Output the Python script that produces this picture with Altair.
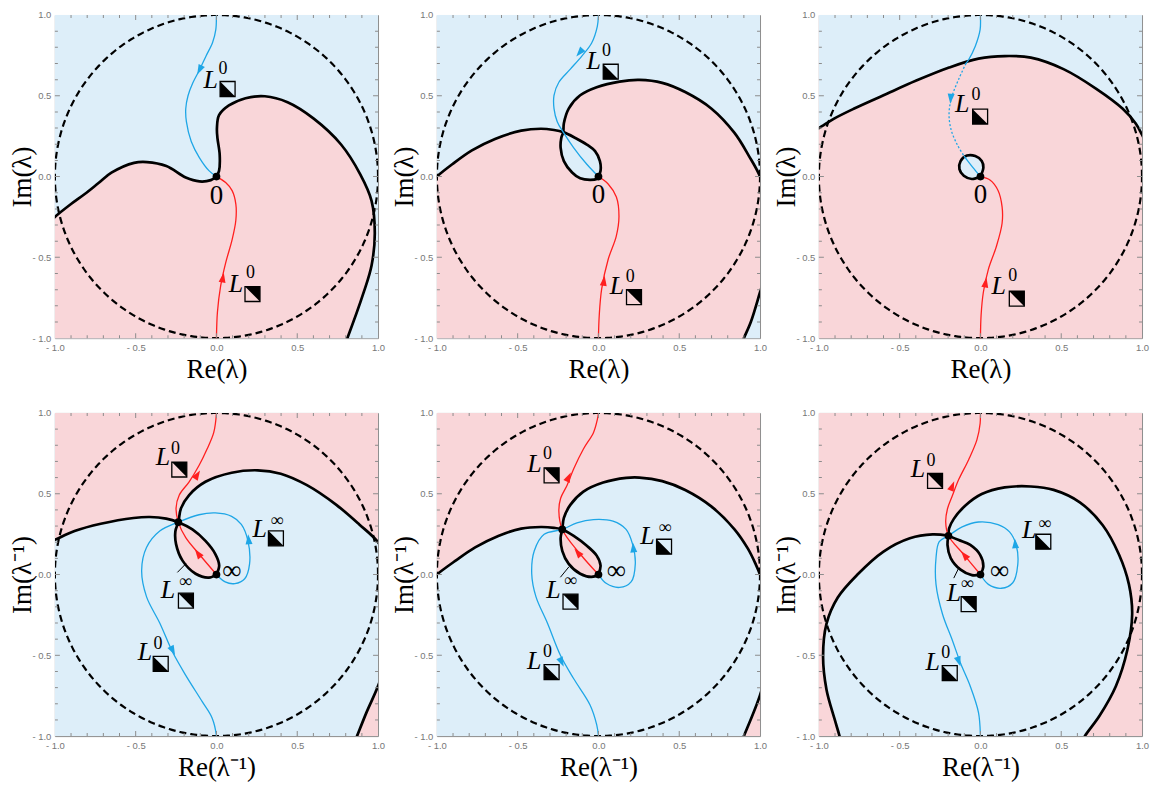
import altair as alt
import numpy as np
import pandas as pd

PINK = "#f9d6d9"
BLUE = "#ddeef9"
RED = "#ff1f1f"
CYAN = "#1ea6e6"
SERIF = "Liberation Serif"
W = 324

# ---------------- Panel 1 (top left) ----------------
P1_LEFT = [(-1.04, -0.29), (-1.0, -0.25), (-0.9, -0.17), (-0.815, -0.108), (-0.73, -0.04), (-0.65, 0.024),
           (-0.51, 0.085), (-0.43, 0.09), (-0.31, 0.065), (-0.19, -0.006), (-0.105, -0.03), (-0.035, -0.022), (0.0, 0.0)]
P1_SPIRAL = [(0.0, 0.0), (0.016, 0.035), (0.02, 0.136), (0.006, 0.24), (0.003, 0.3), (0.016, 0.38), (0.077, 0.44),
             (0.18, 0.485), (0.3, 0.497), (0.44, 0.46), (0.6, 0.36), (0.77, 0.2), (0.89, 0.014), (0.96, -0.15),
             (0.98, -0.35), (0.96, -0.55), (0.91, -0.72), (0.81, -1.0), (0.79, -1.05)]
P1_BLUE = [(0.0, 1.05), (0.0, 1.0), (-0.004, 0.91), (-0.024, 0.83), (-0.065, 0.745), (-0.105, 0.66), (-0.146, 0.58),
           (-0.176, 0.5), (-0.19, 0.42), (-0.186, 0.34), (-0.156, 0.217), (-0.105, 0.116), (-0.045, 0.035), (0.0, 0.0)]
P1_RED = [(0.0, -1.05), (0.0, -1.0), (0.006, -0.84), (0.026, -0.676), (0.057, -0.534), (0.097, -0.39), (0.12, -0.27),
          (0.12, -0.17), (0.097, -0.087), (0.057, -0.037), (0.0, 0.0)]
P1_ARROWS = [(-0.105, 0.66, 207, "blue"), (0.04, -0.625, 10, "red")]
P1_LABELS = [(-0.035, 0.6, 0.04, 0.665, 0.069, 0.542, "0", "ll"),
             (0.12, -0.666, 0.21, -0.595, 0.223, -0.727, "0", "ur")]
P1_POINTS = [(0.0, 0.0)]
P1_POINT_LABELS = [(0.0, -0.12, "0")]

# ---------------- Panel 2 (top middle) ----------------
P2_LEFT = [(-1.04, -0.04), (-1.0, 0.0), (-0.905, 0.076), (-0.783, 0.162), (-0.64, 0.233), (-0.478, 0.284),
           (-0.356, 0.296), (-0.275, 0.288), (-0.218, 0.275)]
P2_LOOP_R = [(-0.218, 0.275), (-0.143, 0.239), (-0.072, 0.198), (-0.021, 0.157), (0.009, 0.096), (0.013, 0.036), (0.0, 0.0)]
P2_LOOP_L = [(0.0, 0.0), (-0.011, -0.015), (-0.052, -0.021), (-0.113, -0.011), (-0.163, 0.025), (-0.214, 0.096),
             (-0.234, 0.178), (-0.23, 0.239), (-0.218, 0.275)]
P2_SPIRAL = [(-0.218, 0.275), (-0.214, 0.33), (-0.184, 0.421), (-0.113, 0.503), (-0.011, 0.553), (0.131, 0.588),
             (0.253, 0.598), (0.395, 0.58), (0.537, 0.523), (0.7, 0.42), (0.842, 0.27), (0.93, 0.13), (1.0, 0.0),
             (1.04, -0.15), (1.06, -0.35), (1.05, -0.55), (1.0, -0.716), (0.943, -0.9), (0.9, -1.0), (0.88, -1.05)]
P2_BLUE = [(0.0, 1.05), (0.0, 1.0), (-0.007, 0.93), (-0.042, 0.827), (-0.103, 0.746), (-0.174, 0.665), (-0.245, 0.584),
           (-0.275, 0.503), (-0.275, 0.421), (-0.255, 0.34), (-0.218, 0.275), (-0.153, 0.178), (-0.072, 0.076), (0.0, 0.0)]
P2_RED = [(0.0, -1.05), (0.0, -1.0), (0.005, -0.858), (0.02, -0.695), (0.06, -0.513), (0.11, -0.37), (0.127, -0.249),
          (0.111, -0.127), (0.06, -0.046), (0.0, 0.0)]
P2_ARROWS = [(-0.117, 0.767, 221, "blue"), (0.034, -0.645, 8, "red")]
P2_LABELS = [(-0.03, 0.715, 0.05, 0.777, 0.076, 0.649, "0", "ll"),
             (0.115, -0.675, 0.196, -0.624, 0.22, -0.746, "0", "ur")]
P2_POINTS = [(0.0, 0.0)]
P2_POINT_LABELS = [(0.0, -0.117, "0")]

# ---------------- Panel 3 (top right) ----------------
P3_TOP = [(-1.04, 0.28), (-1.0, 0.3), (-0.903, 0.36), (-0.781, 0.421), (-0.6, 0.503), (-0.397, 0.594), (-0.194, 0.675),
          (-0.012, 0.73), (0.15, 0.746), (0.312, 0.736), (0.514, 0.665), (0.717, 0.543), (0.879, 0.421), (0.96, 0.33),
          (1.0, 0.259), (1.03, 0.2)]
P3_LOOP = [(0.0, 0.0), (0.018, 0.056), (0.008, 0.096), (-0.032, 0.127), (-0.083, 0.13), (-0.123, 0.096),
           (-0.13, 0.046), (-0.103, 0.005), (-0.053, -0.015), (0.0, 0.0)]
P3_BLUE_SOLID = [(0.0, 1.05), (0.0, 1.0), (-0.002, 0.909), (-0.032, 0.807), (-0.075, 0.72), (-0.09, 0.70)]
P3_BLUE_DOTTED = [(-0.09, 0.70), (-0.134, 0.604), (-0.174, 0.503), (-0.194, 0.401), (-0.184, 0.299), (-0.144, 0.198),
                  (-0.1, 0.125)]
P3_BLUE_INNER = [(-0.1, 0.125), (-0.05, 0.06), (0.0, 0.0)]
P3_RED = [(0.0, -1.05), (0.0, -1.0), (0.004, -0.858), (0.018, -0.716), (0.049, -0.574), (0.099, -0.431),
          (0.134, -0.289), (0.134, -0.188), (0.109, -0.086), (0.059, -0.021), (0.0, 0.0)]
P3_ARROWS = [(-0.184, 0.482, 185, "blue"), (0.032, -0.655, 10, "red")]
P3_LABELS = [(-0.113, 0.452, -0.028, 0.503, -0.002, 0.371, "0", "ll"),
             (0.113, -0.675, 0.2, -0.614, 0.225, -0.756, "0", "ur")]
P3_POINTS = [(0.0, 0.0)]
P3_POINT_LABELS = [(0.0, -0.117, "0")]

# ---------------- Panel 4 (bottom left) ----------------
P4_LEFT = [(-1.04, 0.2), (-1.0, 0.215), (-0.878, 0.269), (-0.716, 0.314), (-0.513, 0.35), (-0.412, 0.356),
           (-0.311, 0.346), (-0.236, 0.324)]
P4_LOOP_R = [(-0.236, 0.324), (-0.149, 0.279), (-0.068, 0.208), (-0.007, 0.127), (0.017, 0.056), (0.0, 0.0)]
P4_LOOP_L = [(0.0, 0.0), (-0.047, -0.019), (-0.129, 0.005), (-0.21, 0.086), (-0.25, 0.188), (-0.254, 0.269),
             (-0.236, 0.324)]
P4_SPIRAL_TOP = [(-0.236, 0.324), (-0.219, 0.411), (-0.169, 0.492), (-0.068, 0.574), (0.094, 0.63), (0.256, 0.645),
                 (0.398, 0.624), (0.56, 0.553), (0.742, 0.431), (0.884, 0.31), (1.0, 0.2), (1.05, 0.1)]
P4_SPIRAL_OUT = [(1.05, 0.1), (1.08, -0.2), (1.06, -0.5), (1.0, -0.69), (0.93, -0.85), (0.87, -1.0), (0.85, -1.05)]
P4_RED = [(0.0, 0.0), (-0.108, 0.127), (-0.19, 0.228), (-0.236, 0.324), (-0.25, 0.411), (-0.23, 0.492),
          (-0.169, 0.574), (-0.108, 0.675), (-0.058, 0.777), (-0.017, 0.878), (0.0, 1.0), (0.0, 1.05)]
P4_BLUE = [(0.0, 0.0), (0.054, -0.046), (0.114, -0.056), (0.175, -0.026), (0.205, 0.066), (0.195, 0.208),
           (0.154, 0.31), (0.094, 0.36), (-0.007, 0.381), (-0.108, 0.37), (-0.236, 0.324), (-0.351, 0.269),
           (-0.433, 0.167), (-0.463, 0.025), (-0.433, -0.137), (-0.351, -0.3), (-0.27, -0.483), (-0.19, -0.624),
           (-0.088, -0.787), (-0.027, -0.888), (0.0, -1.0), (0.0, -1.05)]
P4_ARROWS = [(-0.118, 0.618, 32, "red"), (-0.115, 0.131, 324, "red"), (-0.27, -0.472, 153, "blue"),
             (0.199, 0.218, 355, "blue")]
P4_LABELS = [(-0.331, 0.725, -0.254, 0.776, -0.23, 0.65, "0", "ur"),
             (0.267, 0.279, 0.374, 0.33, 0.368, 0.224, "∞", "ll"),
             (-0.3, -0.096, -0.193, -0.046, -0.189, -0.162, "∞", "ur"),
             (-0.443, -0.482, -0.362, -0.431, -0.345, -0.553, "0", "ll")]
P4_POINTS = [(0.0, 0.0), (-0.236, 0.324)]
P4_POINT_LABELS = [(0.095, 0.02, "∞")]
P4_POINTER = [(-0.24, 0.015), (-0.19, 0.066)]

# ---------------- Panel 5 (bottom middle) ----------------
P5_LEFT = [(-1.04, -0.04), (-1.0, 0.0), (-0.884, 0.086), (-0.763, 0.168), (-0.62, 0.239), (-0.478, 0.284),
           (-0.356, 0.294), (-0.275, 0.289), (-0.224, 0.279)]
P5_LOOP_R = [(-0.224, 0.279), (-0.153, 0.239), (-0.072, 0.178), (-0.011, 0.117), (0.013, 0.056), (0.0, 0.0)]
P5_LOOP_L = [(0.0, 0.0), (-0.042, -0.015), (-0.113, 0.005), (-0.184, 0.066), (-0.224, 0.147), (-0.234, 0.228),
             (-0.224, 0.279)]
P5_SPIRAL_TOP = [(-0.224, 0.279), (-0.214, 0.35), (-0.174, 0.431), (-0.093, 0.513), (0.029, 0.569), (0.172, 0.598),
                 (0.253, 0.6), (0.395, 0.578), (0.537, 0.523), (0.7, 0.42), (0.842, 0.28), (0.925, 0.16),
                 (0.975, 0.06), (1.0, 0.0), (1.04, -0.12)]
P5_SPIRAL_OUT = [(1.04, -0.12), (1.06, -0.35), (1.05, -0.55), (1.0, -0.746), (0.9, -1.0), (0.88, -1.05)]
P5_RED = [(0.0, 0.0), (-0.113, 0.127), (-0.224, 0.279), (-0.245, 0.391), (-0.234, 0.472), (-0.194, 0.553),
          (-0.153, 0.655), (-0.093, 0.777), (-0.031, 0.878), (-0.007, 0.959), (0.0, 1.0), (0.0, 1.05)]
P5_BLUE = [(0.0, 0.0), (0.05, -0.056), (0.131, -0.08), (0.202, -0.046), (0.228, 0.066), (0.211, 0.188),
           (0.171, 0.279), (0.09, 0.33), (-0.031, 0.34), (-0.133, 0.32), (-0.224, 0.279), (-0.336, 0.249),
           (-0.397, 0.147), (-0.413, 0.005), (-0.387, -0.137), (-0.316, -0.3), (-0.234, -0.503), (-0.153, -0.645),
           (-0.052, -0.807), (-0.011, -0.929), (0.0, -1.0), (0.0, -1.05)]
P5_ARROWS = [(-0.184, 0.604, 25, "red"), (-0.129, 0.137, 320, "red"), (-0.228, -0.543, 155, "blue"),
             (0.216, 0.168, 355, "blue")]
P5_LABELS = [(-0.396, 0.687, -0.316, 0.746, -0.29, 0.614, "0", "ur"),
             (0.304, 0.239, 0.411, 0.285, 0.406, 0.172, "∞", "ll"),
             (-0.279, -0.096, -0.173, -0.041, -0.173, -0.168, "∞", "ur"),
             (-0.397, -0.533, -0.316, -0.482, -0.29, -0.604, "0", "ll")]
P5_POINTS = [(0.0, 0.0), (-0.224, 0.279)]
P5_POINT_LABELS = [(0.111, 0.02, "∞")]
P5_POINTER = [(-0.234, -0.015), (-0.184, 0.046)]

# ---------------- Panel 6 (bottom right) ----------------
P6_LEFT = [(-0.198, 0.24), (-0.296, 0.248), (-0.437, 0.224), (-0.6, 0.142), (-0.761, 0.0), (-0.883, -0.142),
           (-0.953, -0.305), (-0.974, -0.508), (-0.953, -0.711), (-0.903, -0.894), (-0.872, -1.0), (-0.86, -1.05)]
P6_SPIRAL = [(-0.198, 0.24), (-0.194, 0.285), (-0.164, 0.346), (-0.093, 0.427), (0.008, 0.498), (0.15, 0.539),
             (0.312, 0.545), (0.453, 0.524), (0.615, 0.447), (0.757, 0.305), (0.858, 0.122), (0.919, -0.061),
             (0.939, -0.244), (0.909, -0.467), (0.838, -0.691), (0.737, -0.874), (0.646, -1.0), (0.62, -1.05)]
P6_LOOP_L = [(-0.198, 0.24), (-0.204, 0.183), (-0.184, 0.102), (-0.123, 0.03), (-0.053, -0.004), (0.0, 0.0)]
P6_LOOP_R = [(0.0, 0.0), (0.018, 0.051), (-0.002, 0.122), (-0.063, 0.183), (-0.134, 0.213), (-0.198, 0.24)]
P6_RED = [(0.0, 0.0), (-0.1, 0.12), (-0.198, 0.24), (-0.215, 0.325), (-0.204, 0.407), (-0.174, 0.488),
          (-0.134, 0.589), (-0.073, 0.711), (-0.022, 0.833), (-0.002, 0.935), (0.0, 1.0), (0.0, 1.05)]
P6_BLUE = [(0.0, 0.0), (0.049, -0.061), (0.13, -0.085), (0.2, -0.051), (0.231, 0.061), (0.221, 0.183),
           (0.18, 0.264), (0.109, 0.309), (-0.012, 0.325), (-0.113, 0.295), (-0.198, 0.24), (-0.255, 0.203),
           (-0.275, 0.102), (-0.275, -0.061), (-0.235, -0.244), (-0.174, -0.407), (-0.123, -0.549), (-0.063, -0.691),
           (-0.012, -0.854), (0.0, -1.0), (0.0, -1.05)]
P6_ARROWS = [(-0.174, 0.549, 22, "red"), (-0.1, 0.12, 320, "red"), (-0.134, -0.539, 162, "blue"),
             (0.215, 0.193, 355, "blue")]
P6_LABELS = [(-0.387, 0.65, -0.306, 0.701, -0.281, 0.579, "0", "ur"),
             (0.302, 0.274, 0.397, 0.315, 0.389, 0.203, "∞", "ll"),
             (-0.164, -0.112, -0.083, -0.061, -0.073, -0.183, "∞", "ur"),
             (-0.296, -0.539, -0.215, -0.488, -0.19, -0.61, "0", "ll")]
P6_POINTS = [(0.0, 0.0), (-0.198, 0.24)]
P6_POINT_LABELS = [(0.119, 0.02, "∞")]
P6_POINTER = [(-0.164, -0.02), (-0.134, 0.041)]

MAJOR_TICKS = [-1.0, -0.5, 0.0, 0.5, 1.0]
MINOR_TICKS = [-0.9, -0.8, -0.7, -0.6, -0.4, -0.3, -0.2, -0.1, 0.1, 0.2, 0.3, 0.4, 0.6, 0.7, 0.8, 0.9]

# unit circle |lambda| = 1 (geometric reference)
_T = np.linspace(0, 2 * np.pi, 361)
UNIT_CIRCLE = list(zip(np.cos(_T), np.sin(_T)))

SC = alt.Scale(domain=[-1, 1], nice=False, zero=False)
LBL = "datum.value < 0 ? '- ' + format(-datum.value, '.1f') : format(datum.value, '.1f')"
ARROW = "M0,-1L0.7,1L-0.7,1Z"
TRI_UR = "M-1,-1L1,-1L1,1Z"
TRI_LL = "M-1,-1L1,1L-1,1Z"
TICK_GRAY = "#8c8c8c"


def X(f="x"):
    return alt.X(f + ":Q", scale=SC, axis=None)


def Y(f="y"):
    return alt.Y(f + ":Q", scale=SC, axis=None)


def multi_df(curves):
    rows = []
    for c, pts in enumerate(curves):
        for i, (x, y) in enumerate(pts):
            rows.append({"c": c, "i": i, "x": float(x), "y": float(y)})
    return pd.DataFrame(rows)


def lines(curves, color, width, dash=None, interp="catmull-rom"):
    kw = dict(color=color, strokeWidth=width, interpolate=interp, clip=True, strokeCap="round")
    if dash:
        kw["strokeDash"] = dash
        kw["strokeCap"] = "butt"
    return alt.Chart(multi_df(curves)).mark_line(**kw).encode(x=X(), y=Y(), detail="c:N", order="i:Q")


def fill(poly, color):
    return alt.Chart(multi_df([poly])).mark_line(
        fill=color, stroke=color, strokeWidth=0.5, interpolate="catmull-rom", clip=True
    ).encode(x=X(), y=Y(), order="i:Q")


def background(color):
    d = pd.DataFrame({"x": [-1.0], "x2": [1.0], "y": [-1.0], "y2": [1.0]})
    return alt.Chart(d).mark_rect(color=color, opacity=1).encode(x=X(), x2="x2", y=Y(), y2="y2")


def arrows(arr):
    d = pd.DataFrame(arr, columns=["x", "y", "a", "col"])
    return alt.Chart(d).mark_point(shape=ARROW, filled=True, size=100, opacity=1).encode(
        x=X(), y=Y(), angle=alt.Angle("a:Q", scale=None),
        color=alt.Color("col:N", scale=alt.Scale(domain=["red", "blue"], range=[RED, CYAN]), legend=None))


def dots(pts):
    d = pd.DataFrame(pts, columns=["x", "y"])
    return alt.Chart(d).mark_circle(size=60, color="black", opacity=1).encode(x=X(), y=Y())


def point_labels(labs):
    d = pd.DataFrame(labs, columns=["x", "y", "t"])
    return alt.Chart(d).mark_text(font=SERIF, fontSize=27, color="black").encode(x=X(), y=Y(), text="t:N")


def l_labels(labs):
    d = pd.DataFrame(labs, columns=["lx", "ly", "sx", "sy", "bx", "by", "sup", "kind"])
    base = alt.Chart(d)
    L = base.mark_text(text="L", font=SERIF, fontStyle="italic", fontSize=26, color="black").encode(
        x=X("lx"), y=Y("ly"))
    S = base.mark_text(font=SERIF, fontSize=18, color="black").encode(x=X("sx"), y=Y("sy"), text="sup:N")
    B = base.mark_point(shape="square", filled=False, color="black", strokeWidth=1.3, size=225, opacity=1).encode(
        x=X("bx"), y=Y("by"))
    T = base.mark_point(filled=True, color="black", size=225, opacity=1, strokeWidth=0).encode(
        x=X("bx"), y=Y("by"),
        shape=alt.Shape("kind:N", scale=alt.Scale(domain=["ur", "ll"], range=[TRI_UR, TRI_LL]), legend=None))
    return [L, S, B, T]


def frame_ticks():
    out = []
    for vals, length in ((MAJOR_TICKS[1:-1], 10), (MINOR_TICKS, 6)):
        d = pd.DataFrame({"v": vals})
        base = alt.Chart(d).mark_tick(color=TICK_GRAY, thickness=1, size=length, clip=True, opacity=1)
        for edge in (0, W):
            out.append(base.encode(x=X("v"), y=alt.value(edge)))
            out.append(base.encode(y=Y("v"), x=alt.value(edge)))
    return out


def axis_layer(xt, yt):
    d = pd.DataFrame({"x": [0.0], "y": [0.0]})
    common = dict(values=MAJOR_TICKS, labelExpr=LBL, ticks=False, domain=False, grid=False, labelFlush=False,
                  labelOverlap=False, labelFont="Liberation Sans", labelFontSize=9.5, labelColor="#777777",
                  labelPadding=4, titleFont=SERIF, titleFontSize=27, titleFontWeight="normal", titleColor="black")
    return alt.Chart(d).mark_point(opacity=0).encode(
        x=alt.X("x:Q", scale=SC, title=xt, axis=alt.Axis(orient="bottom", titlePadding=5, **common)),
        y=alt.Y("y:Q", scale=SC, title=yt,
                axis=alt.Axis(orient="left", titleX=-32, titleBaseline="middle", **common)))


def panel(bg, fills, blacks, reds, blues, dotted, arr, labs, pts, plabs, pointer, xt, yt):
    layers = [background(bg)]
    for poly, col in fills:
        layers.append(fill(poly, col))
    layers.append(lines([UNIT_CIRCLE], "black", 2.2, dash=[7, 4], interp="linear"))
    layers.append(lines(blacks, "black", 2.7))
    if pointer:
        layers.append(lines([pointer], "black", 1.0, interp="linear"))
    layers.append(lines(reds, RED, 1.3))
    layers.append(lines(blues, CYAN, 1.3))
    if dotted:
        layers.append(lines(dotted, CYAN, 1.3, dash=[2, 2]))
    layers.append(arrows(arr))
    layers.append(dots(pts))
    layers.append(point_labels(plabs))
    layers += l_labels(labs)
    layers += frame_ticks()
    layers.append(axis_layer(xt, yt))
    return alt.layer(*layers).properties(width=W, height=W).resolve_axis(x="independent", y="independent")


RE1, IM1 = "Re(λ)", "Im(λ)"
RE2, IM2 = "Re(λ⁻¹)", "Im(λ⁻¹)"

p1 = panel(BLUE,
           [(P1_LEFT + P1_SPIRAL[1:] + [(0.7, -1.3), (-1.3, -1.3), (-1.3, -0.4)], PINK)],
           [P1_LEFT, P1_SPIRAL], [P1_RED], [P1_BLUE], None, P1_ARROWS, P1_LABELS, P1_POINTS, P1_POINT_LABELS,
           None, RE1, IM1)

p2 = panel(BLUE,
           [(P2_LEFT + P2_LOOP_L[::-1][1:] + P2_LOOP_R[::-1][1:] + P2_SPIRAL[1:] +
             [(0.8, -1.3), (-1.3, -1.3), (-1.3, -0.05)], PINK)],
           [P2_LEFT + P2_LOOP_R[1:], P2_LOOP_L + P2_SPIRAL[1:]], [P2_RED], [P2_BLUE], None, P2_ARROWS, P2_LABELS,
           P2_POINTS, P2_POINT_LABELS, None, RE1, IM1)

p3 = panel(PINK,
           [(P3_TOP + [(1.3, 0.2), (1.3, 1.3), (-1.3, 1.3), (-1.3, 0.28)], BLUE), (P3_LOOP, BLUE)],
           [P3_TOP, P3_LOOP], [P3_RED], [P3_BLUE_SOLID, P3_BLUE_INNER], [P3_BLUE_DOTTED], P3_ARROWS, P3_LABELS,
           P3_POINTS, P3_POINT_LABELS, None, RE1, IM1)

p4 = panel(BLUE,
           [(P4_LEFT + P4_SPIRAL_TOP[1:] + [(1.3, 0.1), (1.3, 1.3), (-1.3, 1.3), (-1.3, 0.2)], PINK),
            (P4_SPIRAL_OUT + [(0.8, -1.3), (1.3, -1.3), (1.3, 0.1)], PINK),
            (P4_LOOP_R + P4_LOOP_L[1:], PINK)],
           [P4_LEFT + P4_LOOP_R[1:], P4_LOOP_L + P4_SPIRAL_TOP[1:] + P4_SPIRAL_OUT[1:]], [P4_RED], [P4_BLUE], None,
           P4_ARROWS, P4_LABELS, P4_POINTS, P4_POINT_LABELS, P4_POINTER, RE2, IM2)

p5 = panel(BLUE,
           [(P5_LEFT + P5_SPIRAL_TOP[1:] + [(1.3, -0.12), (1.3, 1.3), (-1.3, 1.3), (-1.3, -0.05)], PINK),
            (P5_SPIRAL_OUT + [(0.8, -1.3), (1.3, -1.3), (1.3, -0.12)], PINK),
            (P5_LOOP_R + P5_LOOP_L[1:], PINK)],
           [P5_LEFT + P5_LOOP_R[1:], P5_LOOP_L + P5_SPIRAL_TOP[1:] + P5_SPIRAL_OUT[1:]], [P5_RED], [P5_BLUE], None,
           P5_ARROWS, P5_LABELS, P5_POINTS, P5_POINT_LABELS, P5_POINTER, RE2, IM2)

p6 = panel(PINK,
           [(P6_LEFT[::-1] + P6_SPIRAL[1:] + [(0.6, -1.3), (-0.85, -1.3)], BLUE),
            (P6_LOOP_L + P6_LOOP_R[1:], PINK)],
           [P6_LEFT, P6_SPIRAL, P6_LOOP_L, P6_LOOP_R], [P6_RED], [P6_BLUE], None,
           P6_ARROWS, P6_LABELS, P6_POINTS, P6_POINT_LABELS, P6_POINTER, RE2, IM2)

chart = alt.vconcat(
    alt.hconcat(p1, p2, p3, spacing=4),
    alt.hconcat(p4, p5, p6, spacing=4),
    spacing=24,
).properties(
    padding={"left": 0, "top": 0, "right": 0, "bottom": 0}
).configure_view(stroke=TICK_GRAY, strokeWidth=1)

chart.save("out.html", embed_options={"renderer": "svg", "actions": False})
